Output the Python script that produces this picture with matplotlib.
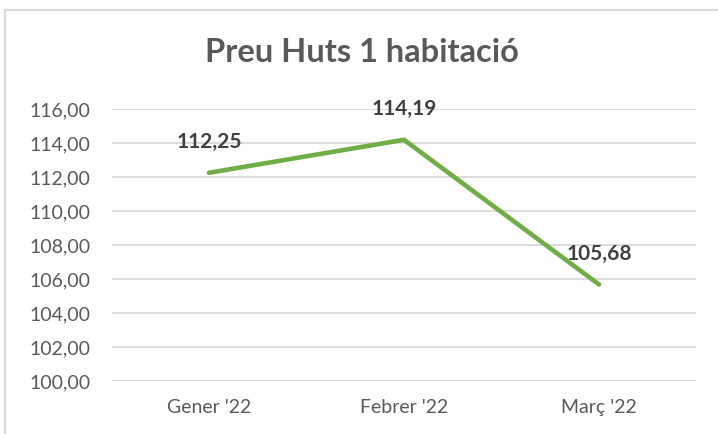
"""Preu Huts 1 habitacio - line chart."""
import matplotlib
matplotlib.use("Agg")
import matplotlib.pyplot as plt
from matplotlib.patches import Rectangle

# Data
months = ["Gener '22", "Febrer '22", "Març '22"]
prices = [112.25, 114.19, 105.68]
yticks = [100, 102, 104, 106, 108, 110, 112, 114, 116]

plt.rcParams.update({'font.family': ['Lato', 'DejaVu Sans']})

fig = plt.figure(figsize=(7.18, 4.34), dpi=100)
ax = fig.add_axes([0.1553, 0.1221, 0.8147, 0.6267])

# outer chart border (Excel frame, cut off at the right and bottom)
fig.patches.append(Rectangle((5 / 718, -0.1), 1.2, 1.1 - 10 / 434,
                             transform=fig.transFigure, fill=False,
                             edgecolor="#d9d9d9", linewidth=1.5))

x = list(range(len(months)))
ax.plot(x, prices, color="#70AD47", linewidth=3.3, solid_capstyle="round",
        solid_joinstyle="miter", zorder=3)

for xi, v in zip(x, prices):
    ax.annotate(f"{v:.2f}".replace(".", ","), (xi, v), xytext=(0, 22),
                textcoords="offset points", ha="center", va="center",
                fontsize=15, fontweight="bold", color="#404040", zorder=4)

ax.set_xlim(-0.5, len(months) - 0.5)
ax.set_ylim(100, 116)
ax.set_yticks(yticks)
ax.set_yticklabels([f"{t:.2f}".replace(".", ",") for t in yticks])
ax.set_xticks(x)
ax.set_xticklabels(months)
ax.grid(axis="y", color="#d9d9d9", linewidth=1.3)
ax.set_axisbelow(True)
for s in ax.spines.values():
    s.set_visible(False)
ax.tick_params(axis="both", length=0, labelsize=14, colors="#595959")
ax.tick_params(axis="y", pad=15)
ax.tick_params(axis="x", pad=13)

fig.text(0.504, 0.878, "Preu Huts 1 habitació", ha="center", va="center",
         fontsize=23.5, fontweight="bold", color="#595959")

fig.savefig("out.png", dpi=100)
